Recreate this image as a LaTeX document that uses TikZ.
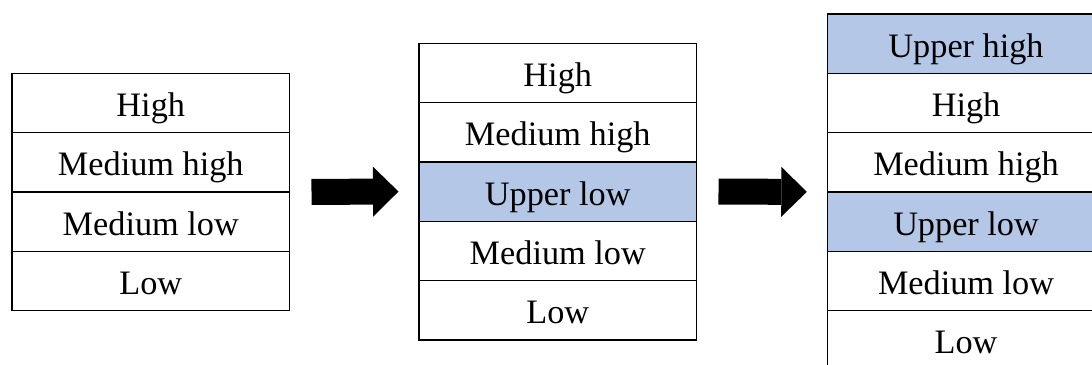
\documentclass[tikz,border=0pt]{standalone}
\usepackage{fontspec}
\setmainfont{Liberation Serif}
\usepackage{xcolor}
\usetikzlibrary{arrows.meta,positioning}
\definecolor{bandblue}{HTML}{B4C7E7}

\begin{document}
\begin{tikzpicture}[
  cell/.style={draw, line width=0.8pt, minimum width=5.55cm, minimum height=1.186cm,
    inner sep=0pt, outer sep=0pt, text height=0.6cm, text depth=0.06cm,
    font=\fontsize{19.5}{23}\selectfont},
  newcell/.style={cell, fill=bandblue},
  bigarrow/.style={line width=0.52cm, -{Triangle[width=1cm, length=0.51cm, line width=0pt]}}
]
  \useasboundingbox (0,0) rectangle (21.84,-7.30);

  % Four levels
  \node[cell, anchor=north west] (a1) at (0.24,-1.466) {High};
  \node[cell, below=0pt of a1] (a2) {Medium high};
  \node[cell, below=0pt of a2] (a3) {Medium low};
  \node[cell, below=0pt of a3] (a4) {Low};

  % Five levels
  \node[cell, anchor=north west] (b1) at (8.38,-0.866) {High};
  \node[cell, below=0pt of b1] (b2) {Medium high};
  \node[newcell, below=0pt of b2] (b3) {Upper low};
  \node[cell, below=0pt of b3] (b4) {Medium low};
  \node[cell, below=0pt of b4] (b5) {Low};

  % Six levels
  \node[newcell, anchor=north west] (c1) at (16.546,-0.28) {Upper high};
  \node[cell, below=0pt of c1] (c2) {High};
  \node[cell, below=0pt of c2] (c3) {Medium high};
  \node[newcell, below=0pt of c3] (c4) {Upper low};
  \node[cell, below=0pt of c4] (c5) {Medium low};
  \node[cell, below=0pt of c5] (c6) {Low};

  % Arrows
  \draw[bigarrow] ([xshift=0.44cm]a2.south east) -- ([xshift=-0.41cm]b3.west);
  \draw[bigarrow] ([xshift=0.44cm]b3.east) -- ([xshift=-0.41cm]c3.south west);
\end{tikzpicture}
\end{document}
